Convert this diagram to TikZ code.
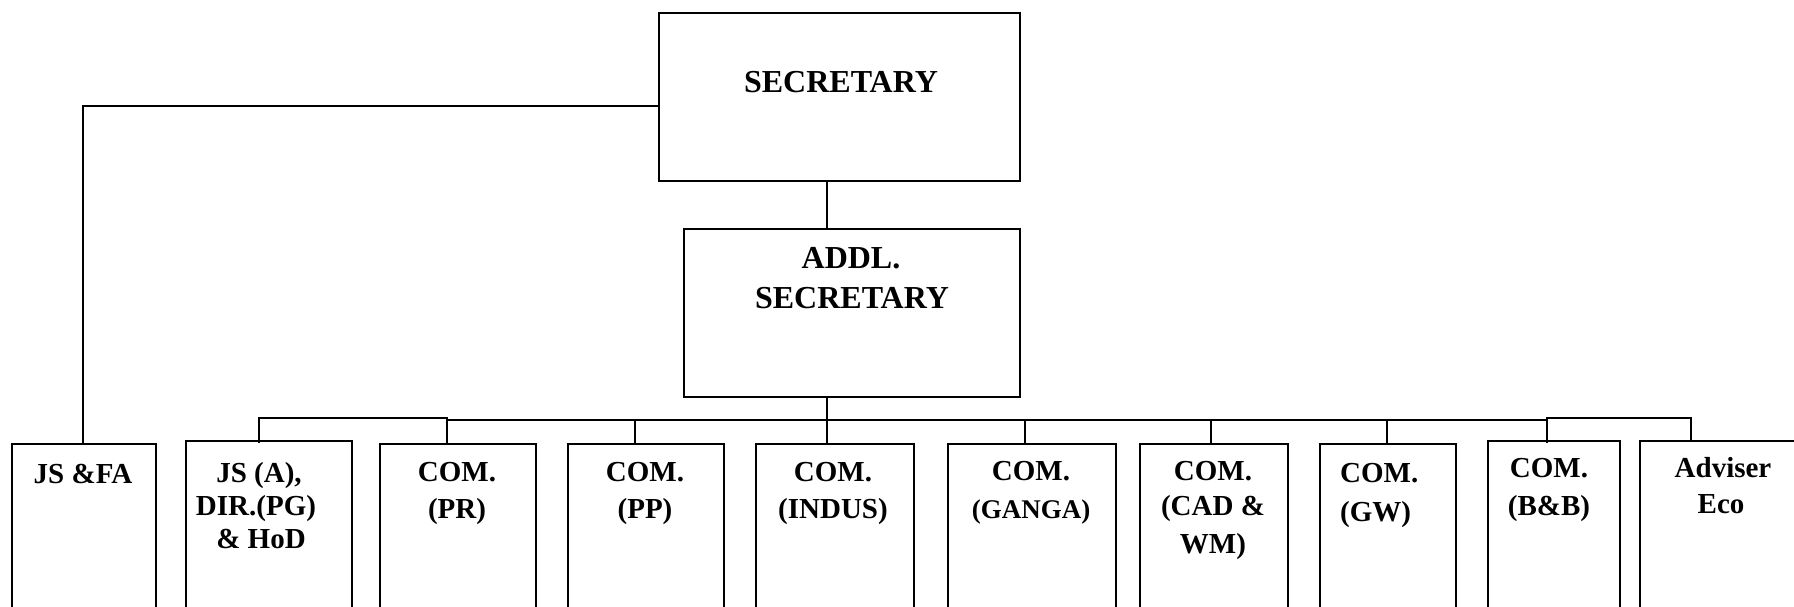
\documentclass[tikz,border=0pt]{standalone}
\usepackage{fontspec}
\setmainfont{Liberation Serif}
\begin{document}
\begin{tikzpicture}[x=1pt,y=-1pt,
  box/.style={draw=black, line width=2.3pt, inner sep=0pt, anchor=north west},
  conn/.style={draw=black, line width=2.3pt},
  big/.style={font=\fontsize{32}{38}\selectfont\bfseries, inner sep=0pt, anchor=base},
  small/.style={font=\fontsize{29}{34}\selectfont\bfseries, inner sep=0pt, anchor=base},
  smaller/.style={font=\fontsize{27}{32}\selectfont\bfseries, inner sep=0pt, anchor=base},
]
\useasboundingbox (0,0) rectangle (1794,606);
\fill[white] (0,0) rectangle (1794,606);

% boxes
\node[box, minimum width=361pt, minimum height=168pt] (sec) at (658,12) {};
\node[box, minimum width=336pt, minimum height=168pt] (addl) at (683,228) {};
\node[box, minimum width=144pt, minimum height=180pt] (jsfa) at (11,443) {};
\node[box, minimum width=166pt, minimum height=183pt] (jsa) at (185,440) {};
\node[box, minimum width=156pt, minimum height=180pt] (pr) at (379,443) {};
\node[box, minimum width=156pt, minimum height=180pt] (pp) at (567,443) {};
\node[box, minimum width=158pt, minimum height=180pt] (indus) at (755,443) {};
\node[box, minimum width=168pt, minimum height=180pt] (ganga) at (947,443) {};
\node[box, minimum width=148pt, minimum height=180pt] (cad) at (1139,443) {};
\node[box, minimum width=136pt, minimum height=180pt] (gw) at (1319,443) {};
\node[box, minimum width=132pt, minimum height=183pt] (bb) at (1487,440) {};
\node[box, minimum width=175pt, minimum height=183pt] (adv) at (1639,440) {};

% texts
\node[big] (sec1) at (841,92) {SECRETARY};
\node[big] (ad1) at (851,268) {ADDL.};
\node[big] (ad2) at (852,308) {SECRETARY};

\node[small] (jf1) at (83,483) {JS \&FA};
\node[small] (ja1) at (259,482) {JS (A),};
\node[small] (ja2) at (256,515) {DIR.(PG)};
\node[small] (ja3) at (261,548) {\& HoD};
\node[small] (pr1) at (457,481) {COM.};
\node[small] (pr2) at (457,518) {(PR)};
\node[small] (pp1) at (645,481) {COM.};
\node[small] (pp2) at (645,518) {(PP)};
\node[small] (in1) at (833,481) {COM.};
\node[small] (in2) at (833,518) {(INDUS)};
\node[small] (ga1) at (1031,480) {COM.};
\node[smaller] (ga2) at (1031,518) {(GANGA)};
\node[small] (cd1) at (1213,480) {COM.};
\node[small] (cd2) at (1213,515) {(CAD \&};
\node[small] (cd3) at (1213,553) {WM)};
\node[small, anchor=base west] (gw1) at (1340,482) {COM.};
\node[small, anchor=base west] (gw2) at (1340,521) {(GW)};
\node[small] (bb1) at (1549,477) {COM.};
\node[small] (bb2) at (1549,515) {(B\&B)};
\node[small] (av1) at (1723,477) {Adviser};
\node[small] (av2) at (1721,513) {Eco};

% connectors
\coordinate (jfx) at (83,106);
\draw[conn] (sec.west |- jfx) -- (jfx) -- (jfx |- jsfa.north);

\coordinate (mx) at (827,420);
\draw[conn] (mx |- sec.south) -- (mx |- addl.north);
\draw[conn] (mx |- addl.south) -- (mx |- indus.north);

\coordinate (bl) at (447,420);
\coordinate (br) at (1547,420);
\draw[conn] (bl) -- (br);

\coordinate (ja) at (259,418);
\draw[conn] (bl |- pr.north) -- (bl |- ja) -- (ja) -- (ja |- pr.north);

\coordinate (ab) at (1691,418);
\draw[conn] (br |- pr.north) -- (br |- ab) -- (ab) -- (ab |- adv.north);

\coordinate (ppx) at (635,420);
\coordinate (gax) at (1025,420);
\coordinate (cdx) at (1211,420);
\coordinate (gwx) at (1387,420);
\draw[conn] (ppx) -- (ppx |- pp.north);
\draw[conn] (gax) -- (gax |- ganga.north);
\draw[conn] (cdx) -- (cdx |- cad.north);
\draw[conn] (gwx) -- (gwx |- gw.north);
\end{tikzpicture}
\end{document}
